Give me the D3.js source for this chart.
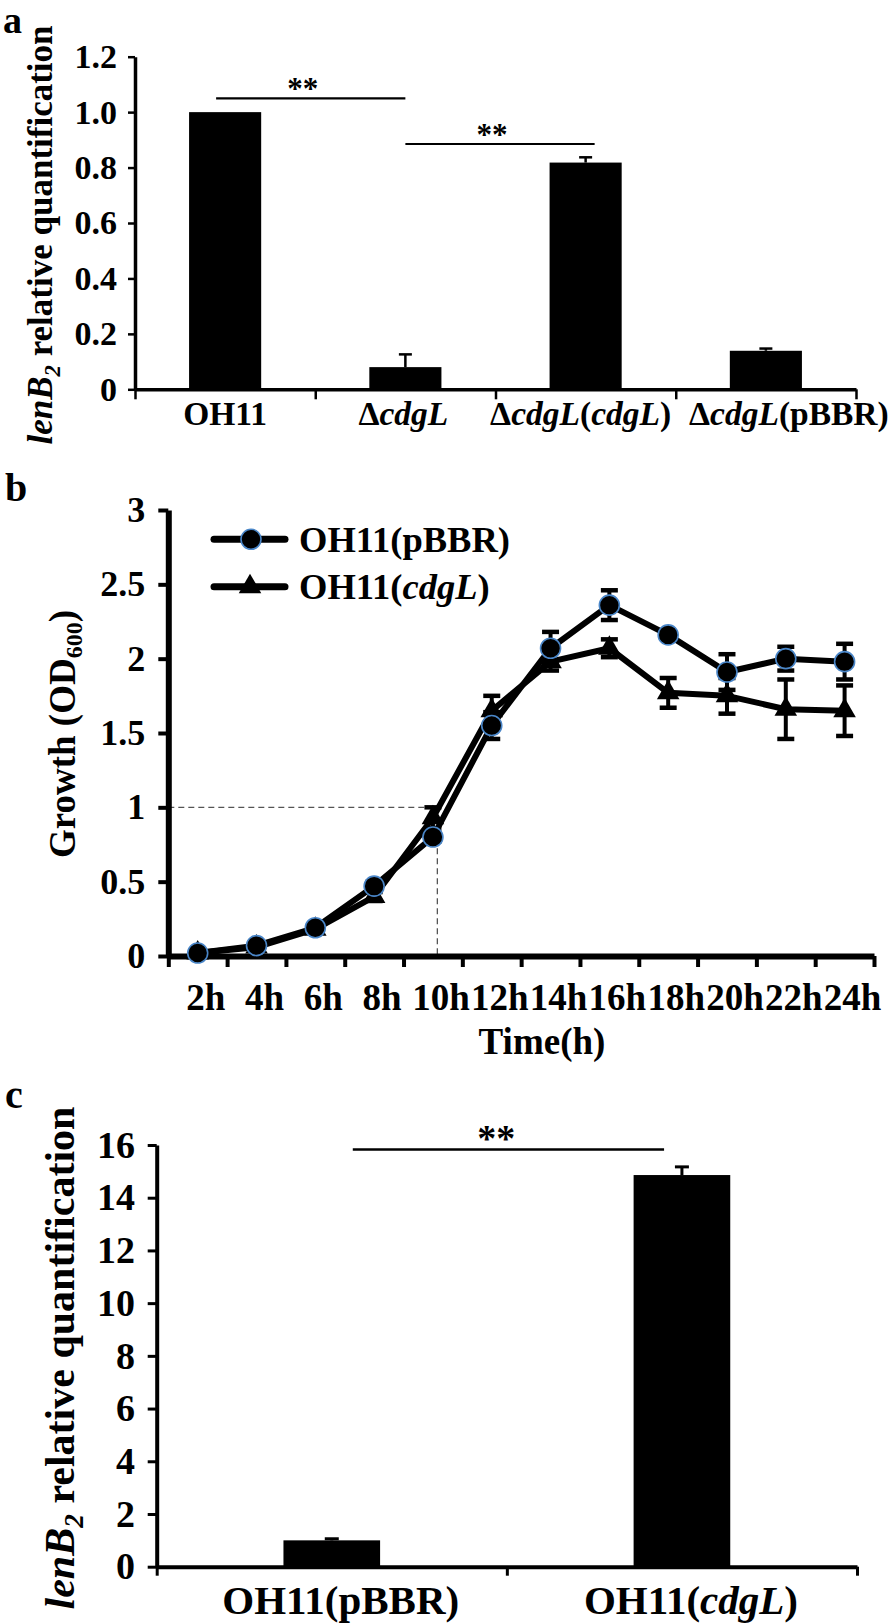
<!DOCTYPE html>
<html><head><meta charset="utf-8">
<script src="https://cdn.jsdelivr.net/npm/d3@7"></script>
<style>
html,body{margin:0;padding:0;background:#fff;}
svg{display:block;}
text{font-family:"Liberation Serif","Times New Roman",serif;font-weight:bold;fill:#000;}
</style></head><body>
<svg id="fig" width="894" height="1623"></svg>
<script>
// ---------- DATA ----------
// Panel a
const aCategories = ["OH11", "ΔcdgL", "ΔcdgL(cdgL)", "ΔcdgL(pBBR)"];
const aValues = [1.0, 0.08, 0.818, 0.139];
const aErrors = [0, 0.046, 0.019, 0.008];
const aTicks = [0, 0.2, 0.4, 0.6, 0.8, 1.0, 1.2];
const aSigFrom = [-0.05, 1.0];
const aSigTo = [1.0, 2.05];
const aSigLevel = [1.05, 0.885];
const aSigStarAt = [0.43, 1.48];
const aSigLabel = ["**", "**"];

// Panel b
const bTimes = ["2h","4h","6h","8h","10h","12h","14h","16h","18h","20h","22h","24h"];
const bHours = [2,4,6,8,10,12,14,16,18,20,22,24];
const bPBBR = [0.02, 0.07, 0.19, 0.47, 0.80, 1.55, 2.07, 2.36, 2.16, 1.91, 2.00, 1.98];
const bPBBRerr = [0.01, 0.02, 0.02, 0.03, 0.03, 0.09, 0.11, 0.10, 0.02, 0.12, 0.08, 0.12];
const bCdgL = [0.02, 0.06, 0.18, 0.40, 0.93, 1.65, 1.98, 2.07, 1.77, 1.75, 1.66, 1.65];
const bCdgLerr = [0.01, 0.01, 0.02, 0.03, 0.07, 0.10, 0.06, 0.06, 0.10, 0.12, 0.20, 0.17];
const bTicks = [0, 0.5, 1, 1.5, 2, 2.5, 3];
const bSeriesNames = ["OH11(pBBR)", "OH11(cdgL)"];
const bRefOD = 1;
const bRefHour = 10.15;

// Panel c
const cCategories = ["OH11(pBBR)", "OH11(cdgL)"];
const cValues = [1.0, 14.86];
const cErrors = [0.06, 0.31];
const cTicks = [0, 2, 4, 6, 8, 10, 12, 14, 16];
const cSigFrom = [0.06];
const cSigTo = [0.949];
const cSigLevel = [15.83];
const cSigStarAt = [0.47];
const cSigLabel = ["**"];

// ---------- HELPERS ----------
const SERIF = '"Liberation Serif","Times New Roman",serif';
const svg = d3.select("#fig");

function styleAxis(g, fontSize, domainW, tickW) {
  g.attr("font-family", SERIF).attr("font-size", fontSize).attr("font-weight", "bold");
  g.select(".domain").attr("stroke", "#000").attr("stroke-width", domainW);
  g.selectAll(".tick line").attr("stroke", "#000").attr("stroke-width", tickW);
  g.selectAll(".tick text").attr("fill", "#000");
}
function addRich(t, str) {
  str.split(/(cdgL)/).filter(s => s.length).forEach(p => {
    t.append("tspan").attr("font-style", p === "cdgL" ? "italic" : "normal").text(p);
  });
}
function lenTitle(x, y, size) {
  const t = svg.append("text").attr("transform", `translate(${x},${y}) rotate(-90)`)
    .attr("text-anchor", "middle").attr("font-size", size);
  t.append("tspan").attr("font-style", "italic").text("lenB");
  t.append("tspan").attr("font-style", "italic").attr("font-size", size * 0.65).attr("dy", size * 0.22).text("2");
  t.append("tspan").attr("dy", -size * 0.22).text(" relative quantification");
}

// ---------- PANEL A ----------
{
  const X0 = 135, X1 = 856, Y0 = 389.3, Y1 = 56.7;
  const x = d3.scaleBand().domain(aCategories).range([X0, X1]).paddingInner(0.6).paddingOuter(0.3);
  const idx = d3.scaleLinear().domain([-0.5, aCategories.length - 0.5]).range([X0, X1]);
  const y = d3.scaleLinear().domain([0, 1.2]).range([Y0, Y1]);
  const bw = x.bandwidth();
  const labelShift = [0, -2, -5, 23];

  svg.append("text").attr("x", 3).attr("y", 33).attr("font-size", 38).text("a");

  svg.selectAll(".barA").data(aCategories).join("rect")
    .attr("x", d => x(d)).attr("y", (d, i) => y(aValues[i]))
    .attr("width", bw).attr("height", (d, i) => y(0) - y(aValues[i])).attr("fill", "#000");

  aCategories.forEach((c, i) => {
    if (aErrors[i] <= 0) return;
    const cx = x(c) + bw / 2;
    svg.append("line").attr("x1", cx).attr("x2", cx).attr("y1", y(aValues[i])).attr("y2", y(aValues[i] + aErrors[i]))
      .attr("stroke", "#000").attr("stroke-width", 2.5);
    svg.append("line").attr("x1", cx - 6.5).attr("x2", cx + 6.5).attr("y1", y(aValues[i] + aErrors[i])).attr("y2", y(aValues[i] + aErrors[i]))
      .attr("stroke", "#000").attr("stroke-width", 2.5);
  });

  svg.append("g").attr("transform", `translate(${X0},0)`)
    .call(d3.axisLeft(y).tickValues(aTicks).tickFormat(d => d === 0 ? "0" : d.toFixed(1)).tickSize(7).tickSizeOuter(0).tickPadding(11))
    .call(g => styleAxis(g, 34, 3.5, 2.5));
  const bnd = d3.scaleLinear().domain([0, aCategories.length]).range([X0, X1]);
  svg.append("g").attr("transform", `translate(0,${Y0})`)
    .call(d3.axisBottom(bnd).tickValues(d3.range(aCategories.length + 1)).tickFormat("").tickSize(10).tickSizeOuter(0))
    .call(g => styleAxis(g, 34, 3.5, 2.5));

  aCategories.forEach((c, i) => {
    const t = svg.append("text").attr("x", x(c) + bw / 2 + labelShift[i]).attr("y", 425).attr("text-anchor", "middle").attr("font-size", 33.5);
    addRich(t, c);
  });

  aSigFrom.forEach((f, i) => {
    svg.append("line").attr("x1", idx(f)).attr("x2", idx(aSigTo[i])).attr("y1", y(aSigLevel[i])).attr("y2", y(aSigLevel[i]))
      .attr("stroke", "#000").attr("stroke-width", 2.2);
    svg.append("text").attr("x", idx(aSigStarAt[i])).attr("y", y(aSigLevel[i]) + 1).attr("text-anchor", "middle")
      .attr("font-size", 31).text(aSigLabel[i]);
  });

  lenTitle(52, 235, 35);
}

// ---------- PANEL B ----------
{
  const X0 = 168.3, X1 = 874, Y0 = 956, Y1 = 510;
  const x = d3.scalePoint().domain(bTimes).range([X0, X1]).padding(0.5);
  const hx = d3.scaleLinear().domain([bHours[0], bHours[bHours.length - 1]]).range([x(bTimes[0]), x(bTimes[bTimes.length - 1])]);
  const y = d3.scaleLinear().domain([0, 3]).range([Y0, Y1]);

  svg.append("text").attr("x", 5).attr("y", 501).attr("font-size", 40).text("b");

  // reference dashed lines
  svg.append("path").attr("d", `M${X0},${y(bRefOD)}H${hx(bRefHour)}V${y(0)}`)
    .attr("fill", "none").attr("stroke", "#555").attr("stroke-width", 1.3).attr("stroke-dasharray", "6,4");

  svg.append("g").attr("transform", `translate(${X0},0)`)
    .call(d3.axisLeft(y).tickValues(bTicks).tickFormat(d3.format("")).tickSize(10).tickSizeOuter(0).tickPadding(13))
    .call(g => styleAxis(g, 36, 6, 4));
  const bnd = d3.scaleLinear().domain([0, bTimes.length]).range([X0, X1]);
  svg.append("g").attr("transform", `translate(0,${Y0})`)
    .call(d3.axisBottom(bnd).tickValues(d3.range(bTimes.length + 1)).tickFormat("").tickSize(11).tickSizeOuter(0))
    .call(g => styleAxis(g, 36, 6, 4));

  bTimes.forEach(t => {
    svg.append("text").attr("x", x(t) + 8).attr("y", 1010).attr("text-anchor", "middle").attr("font-size", 37).text(t);
  });
  svg.append("text").attr("x", 542).attr("y", 1054).attr("text-anchor", "middle").attr("font-size", 37).text("Time(h)");

  const yt = svg.append("text").attr("transform", "translate(75,734) rotate(-90)").attr("text-anchor", "middle").attr("font-size", 37);
  yt.append("tspan").text("Growth (OD");
  yt.append("tspan").attr("font-size", 24).attr("dy", 7).text("600");
  yt.append("tspan").attr("dy", -7).text(")");

  function errbars(vals, errs) {
    bTimes.forEach((t, i) => {
      const cx = x(t), lo = y(vals[i] - errs[i]), hi = y(vals[i] + errs[i]);
      svg.append("line").attr("x1", cx).attr("x2", cx).attr("y1", lo).attr("y2", hi).attr("stroke", "#000").attr("stroke-width", 4);
      [lo, hi].forEach(yy => svg.append("line").attr("x1", cx - 8.5).attr("x2", cx + 8.5).attr("y1", yy).attr("y2", yy)
        .attr("stroke", "#000").attr("stroke-width", 4.5));
    });
  }
  errbars(bCdgL, bCdgLerr);
  errbars(bPBBR, bPBBRerr);

  const line = d3.line().x((d, i) => x(bTimes[i])).y(d => y(d));
  svg.append("path").attr("d", line(bCdgL)).attr("fill", "none").attr("stroke", "#000").attr("stroke-width", 6).attr("stroke-linejoin", "round");
  svg.append("path").attr("d", line(bPBBR)).attr("fill", "none").attr("stroke", "#000").attr("stroke-width", 6).attr("stroke-linejoin", "round");

  const tri = d3.symbol(d3.symbolTriangle, 220);
  svg.selectAll(".tri").data(bCdgL).join("path")
    .attr("transform", (d, i) => `translate(${x(bTimes[i])},${y(d)})`).attr("d", tri).attr("fill", "#000");
  svg.selectAll(".circ").data(bPBBR).join("circle")
    .attr("cx", (d, i) => x(bTimes[i])).attr("cy", d => y(d)).attr("r", 10)
    .attr("fill", "#000").attr("stroke", "#4a86c8").attr("stroke-width", 1.6);

  // legend
  const legY = [539.3, 586.7];
  legY.forEach((ly, i) => {
    svg.append("line").attr("x1", 214).attr("x2", 285).attr("y1", ly).attr("y2", ly)
      .attr("stroke", "#000").attr("stroke-width", 7).attr("stroke-linecap", "round");
    if (i === 0) svg.append("circle").attr("cx", 251).attr("cy", ly).attr("r", 10).attr("fill", "#000").attr("stroke", "#4a86c8").attr("stroke-width", 1.6);
    else svg.append("path").attr("transform", `translate(250,${ly})`).attr("d", tri).attr("fill", "#000");
    const t = svg.append("text").attr("x", 299).attr("y", ly + 12.5).attr("font-size", 36.5);
    addRich(t, bSeriesNames[i]);
  });
}

// ---------- PANEL C ----------
{
  const X0 = 156.7, X1 = 857, Y0 = 1566.7, Y1 = 1145;
  const x = d3.scaleBand().domain(cCategories).range([X0, X1]).paddingInner(0.724).paddingOuter(0.362);
  const idx = d3.scaleLinear().domain([-0.5, cCategories.length - 0.5]).range([X0, X1]);
  const y = d3.scaleLinear().domain([0, 16]).range([Y0, Y1]);
  const bw = x.bandwidth();

  svg.append("text").attr("x", 5).attr("y", 1108).attr("font-size", 40).text("c");

  svg.selectAll(".barC").data(cCategories).join("rect")
    .attr("x", d => x(d)).attr("y", (d, i) => y(cValues[i]))
    .attr("width", bw).attr("height", (d, i) => y(0) - y(cValues[i])).attr("fill", "#000");
  cCategories.forEach((c, i) => {
    const cx = x(c) + bw / 2;
    svg.append("line").attr("x1", cx).attr("x2", cx).attr("y1", y(cValues[i])).attr("y2", y(cValues[i] + cErrors[i]))
      .attr("stroke", "#000").attr("stroke-width", 3);
    svg.append("line").attr("x1", cx - 7).attr("x2", cx + 7).attr("y1", y(cValues[i] + cErrors[i])).attr("y2", y(cValues[i] + cErrors[i]))
      .attr("stroke", "#000").attr("stroke-width", 3);
  });

  svg.append("g").attr("transform", `translate(${X0},0)`)
    .call(d3.axisLeft(y).tickValues(cTicks).tickFormat(d3.format("")).tickSize(9).tickSizeOuter(0).tickPadding(12.7))
    .call(g => styleAxis(g, 38, 4, 3));
  const bnd = d3.scaleLinear().domain([0, cCategories.length]).range([X0, X1]);
  svg.append("g").attr("transform", `translate(0,${Y0})`)
    .call(d3.axisBottom(bnd).tickValues(d3.range(cCategories.length + 1)).tickFormat("").tickSize(9).tickSizeOuter(0))
    .call(g => styleAxis(g, 38, 4, 3));

  cCategories.forEach(c => {
    const t = svg.append("text").attr("x", x(c) + bw / 2 + 9).attr("y", 1614).attr("text-anchor", "middle").attr("font-size", 41);
    addRich(t, c);
  });

  cSigFrom.forEach((f, i) => {
    svg.append("line").attr("x1", idx(f)).attr("x2", idx(cSigTo[i])).attr("y1", y(cSigLevel[i])).attr("y2", y(cSigLevel[i]))
      .attr("stroke", "#000").attr("stroke-width", 2.5);
    svg.append("text").attr("x", idx(cSigStarAt[i])).attr("y", y(cSigLevel[i]) + 2).attr("text-anchor", "middle")
      .attr("font-size", 38).text(cSigLabel[i]);
  });

  lenTitle(74, 1358, 42);
}
</script>
</body></html>
